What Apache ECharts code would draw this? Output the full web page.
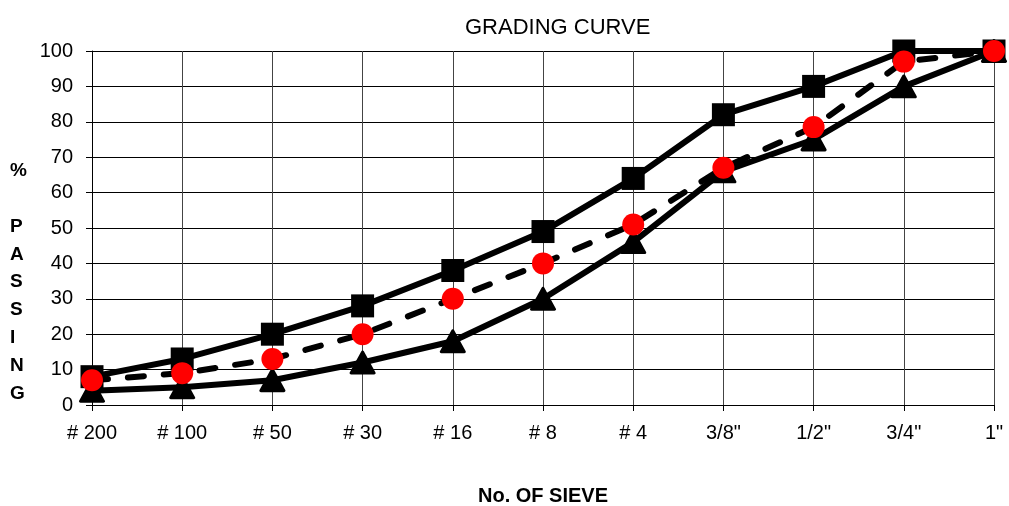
<!DOCTYPE html>
<html>
<head>
<meta charset="utf-8">
<script src="https://cdn.jsdelivr.net/npm/echarts@6/dist/echarts.min.js"></script>
<style>html,body{margin:0;padding:0;background:#fff}#c{width:1009px;height:506px}</style>
</head>
<body>
<div id="c"></div>
<script>
const sieves = ['# 200', '# 100', '# 50', '# 30', '# 16', '# 8', '# 4', '3/8"', '1/2"', '3/4"', '1"'];
const upperLimit = [8, 13, 20, 28, 38, 49, 64, 82, 90, 100, 100];
const lowerLimit = [4, 5, 7, 12, 18, 30, 46, 66, 75, 90, 100];
const sample = [7, 9, 13, 20, 30, 40, 51, 67, 78.5, 97, 100];

const FONT = '"Liberation Sans", Arial, sans-serif';
const chart = echarts.init(document.getElementById('c'), null, {renderer: 'canvas'});
chart.setOption({
  animation: false,
  backgroundColor: '#fff',
  title: {
    text: 'GRADING CURVE', left: 460, top: 12,
    textStyle: {fontFamily: FONT, fontSize: 22, fontWeight: 'normal', color: '#000'}
  },
  grid: {left: 92, right: 15, top: 51, bottom: 101, containLabel: false, outerBoundsMode: 'none'},
  xAxis: {
    type: 'category', data: sieves, boundaryGap: false,
    name: 'No. OF SIEVE', nameLocation: 'middle', nameGap: 81,
    nameTextStyle: {fontFamily: FONT, fontSize: 20, fontWeight: 'bold', color: '#000'},
    axisLine: {lineStyle: {color: '#000', width: 1}},
    axisTick: {show: true, length: 6, alignWithLabel: true, lineStyle: {color: '#000'}},
    axisLabel: {fontFamily: FONT, fontSize: 20, color: '#000', margin: 18, interval: 0},
    splitLine: {show: true, lineStyle: {color: '#444', width: 1}}
  },
  yAxis: {
    type: 'value', min: 0, max: 100, interval: 10,
    axisLine: {show: true, lineStyle: {color: '#000', width: 1}},
    axisTick: {show: true, length: 6, lineStyle: {color: '#000'}},
    axisLabel: {fontFamily: FONT, fontSize: 20, color: '#000', margin: 19},
    splitLine: {show: true, lineStyle: {color: '#000', width: 1}}
  },
  graphic: [{
    type: 'text', left: 10, top: 157,
    style: {
      text: '%\n\nP\nA\nS\nS\nI\nN\nG',
      font: 'bold 19px ' + FONT, fill: '#000', lineHeight: 27.8, align: 'center'
    }
  }],
  series: [
    {
      name: 'Upper', type: 'line', data: upperLimit,
      symbol: 'rect', symbolSize: 23, clip: false,
      lineStyle: {color: '#000', width: 6},
      itemStyle: {color: '#000'}, z: 3
    },
    {
      name: 'Lower', type: 'line', data: lowerLimit,
      symbol: 'triangle', symbolSize: [23, 21], clip: false,
      lineStyle: {color: '#000', width: 6},
      itemStyle: {color: '#000', borderColor: '#000', borderWidth: 3, borderJoin: 'round'}, z: 3
    },
    {
      name: 'Sample', type: 'line', data: sample,
      symbol: 'circle', symbolSize: 22, clip: false,
      lineStyle: {color: '#000', width: 6, type: [16, 20], cap: 'round'},
      itemStyle: {color: '#ff0000'}, z: 4
    }
  ]
});
</script>
</body>
</html>
